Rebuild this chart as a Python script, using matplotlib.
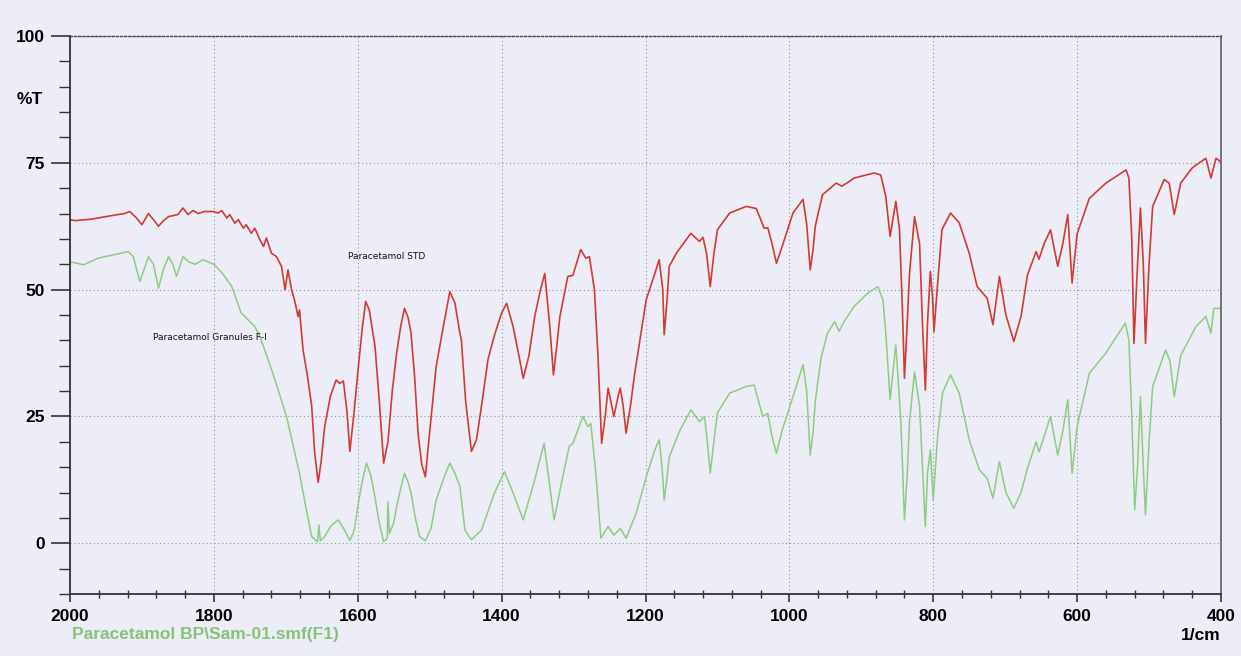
import numpy as np
import matplotlib.pyplot as plt
from matplotlib.ticker import MultipleLocator

# --- FTIR spectra (wavenumber in 1/cm, %T) ---
std_wn = [2000, 1993, 1970, 1942, 1924, 1917, 1908, 1900, 1891, 1884, 1877, 1870, 1863, 1850,
          1843, 1836, 1829, 1822, 1813, 1801, 1794, 1789, 1782, 1778, 1771, 1766, 1759, 1755,
          1748, 1743, 1736, 1731, 1727, 1720, 1713, 1706, 1701, 1697, 1692, 1688, 1683, 1681,
          1676, 1670, 1664, 1660, 1655, 1651, 1646, 1638, 1630, 1625, 1620, 1615, 1611, 1605,
          1600, 1594, 1589, 1584, 1576, 1570, 1564, 1558, 1552, 1546, 1540, 1535, 1530, 1526,
          1521, 1516, 1511, 1506, 1500, 1491, 1482, 1472, 1465, 1458, 1456, 1450, 1442, 1435,
          1427, 1419, 1410, 1400, 1393, 1384, 1376, 1370, 1362, 1354, 1346, 1340, 1333, 1328,
          1324, 1319, 1308, 1301, 1290, 1283, 1278, 1271, 1266, 1261, 1256, 1252, 1244, 1238,
          1235, 1231, 1227, 1221, 1215, 1199, 1187, 1181, 1176, 1174, 1170, 1167, 1157, 1137,
          1125, 1120, 1115, 1110, 1105, 1100, 1083, 1060, 1046, 1035, 1030, 1024, 1018, 1010,
          995, 981, 976, 971, 967, 964, 954, 935, 927, 917, 910, 882, 873, 866, 860, 852, 847,
          843, 840, 836, 833, 826, 819, 815, 811, 808, 804, 801, 799, 794, 788, 776, 764, 750,
          739, 725, 717, 708, 699, 688, 678, 669, 657, 653, 646, 637, 627, 620, 613, 607, 600,
          583, 560, 532, 528, 524, 521, 516, 512, 508, 505, 500, 495, 479, 472, 465, 456, 440,
          421, 414, 407, 403, 400]
std_t = [63.8, 63.6, 63.9, 64.6, 65.0, 65.4, 64.2, 62.8, 65.0, 63.8, 62.5, 63.6, 64.4, 64.8,
         66.1, 64.8, 65.6, 65.0, 65.4, 65.4, 65.1, 65.6, 64.1, 64.8, 63.1, 63.8, 62.1, 62.8,
         61.1, 62.1, 59.8, 58.5, 60.2, 57.2, 56.5, 54.6, 50.0, 53.9, 50.0, 48.0, 44.7, 46.0,
         38.1, 33.0, 27.0, 18.0, 12.0, 16.0, 23.0, 29.0, 32.2, 31.5, 32.0, 26.0, 18.1, 26.0,
         33.6, 42.0, 47.7, 46.0, 38.8, 28.0, 15.8, 20.0, 30.0, 37.5, 43.0, 46.3, 44.5, 41.5,
         33.0, 21.4, 15.5, 13.1, 22.0, 34.8, 42.0, 49.6, 47.4, 41.4, 40.1, 28.0, 18.1, 20.4,
         28.0, 36.2, 41.0, 45.4, 47.3, 42.7, 37.0, 32.5, 37.0, 44.7, 50.0, 53.2, 42.7, 33.2,
         38.0, 44.7, 52.6, 52.8, 57.9, 56.2, 56.5, 50.0, 36.8, 19.7, 25.0, 30.6, 25.0, 29.0,
         30.6, 27.0, 21.7, 27.0, 33.5, 48.0, 53.2, 55.9, 50.0, 41.1, 48.0, 54.6, 57.2, 61.1,
         59.5, 60.3, 57.0, 50.6, 57.0, 61.8, 65.1, 66.4, 66.0, 62.1, 62.2, 59.0, 55.2, 58.5,
         65.1, 67.8, 63.0, 53.9, 58.0, 62.5, 68.7, 71.0, 70.4, 71.3, 72.0, 73.0, 72.6, 68.4,
         60.5, 67.4, 62.0, 46.7, 32.5, 44.0, 53.2, 64.4, 59.0, 43.4, 30.2, 43.4, 53.6, 48.6,
         41.7, 51.0, 61.8, 65.1, 63.2, 57.2, 50.6, 48.3, 43.1, 52.6, 45.0, 39.8, 44.7, 52.9,
         57.5, 56.0, 59.0, 61.8, 54.6, 59.0, 64.8, 51.3, 61.0, 68.0, 71.0, 73.6, 72.0, 60.0,
         39.4, 55.0, 66.1, 55.0, 39.4, 55.0, 66.4, 71.7, 71.0, 64.8, 71.0, 74.0, 75.9, 72.0,
         75.9, 75.5, 75.0]

gran_wn = [2000, 1981, 1961, 1938, 1919, 1912, 1903, 1897, 1891, 1884, 1877, 1870, 1863, 1857,
           1852, 1843, 1835, 1826, 1815, 1799, 1787, 1775, 1762, 1743, 1736, 1718, 1699, 1681,
           1672, 1664, 1656, 1654, 1652, 1646, 1637, 1627, 1618, 1611, 1605, 1600, 1594, 1588,
           1582, 1576, 1570, 1564, 1559, 1558, 1556, 1550, 1546, 1540, 1535, 1530, 1526, 1520,
           1514, 1506, 1498, 1491, 1480, 1472, 1465, 1458, 1451, 1442, 1428, 1410, 1396, 1384,
           1370, 1354, 1341, 1333, 1327, 1317, 1306, 1301, 1287, 1280, 1276, 1269, 1262, 1252,
           1244, 1235, 1227, 1213, 1199, 1187, 1181, 1177, 1174, 1170, 1167, 1153, 1137, 1125,
           1118, 1114, 1110, 1105, 1100, 1083, 1060, 1049, 1037, 1030, 1024, 1018, 1010, 995,
           981, 976, 971, 967, 964, 956, 947, 937, 931, 924, 910, 891, 877, 870, 866, 860, 852,
           845, 840, 836, 833, 826, 819, 815, 811, 808, 804, 800, 794, 787, 776, 764, 750, 736,
           725, 717, 708, 699, 688, 678, 669, 657, 653, 646, 637, 627, 620, 613, 607, 600, 583,
           560, 533, 528, 524, 520, 516, 512, 508, 505, 500, 495, 477, 471, 465, 456, 435, 421,
           414, 410, 403, 400]
gran_t = [55.5, 54.9, 56.2, 56.9, 57.5, 56.5, 51.6, 54.0, 56.5, 55.0, 50.3, 54.0, 56.5, 55.0,
          52.6, 56.5, 55.5, 55.0, 55.9, 54.9, 53.0, 50.6, 45.4, 42.7, 40.8, 33.5, 25.0, 13.8,
          7.0, 1.3, 0.3, 3.6, 0.5, 1.3, 3.5, 4.6, 2.5, 0.5, 2.5, 7.2, 12.0, 15.8,
          13.5, 9.0, 4.0, 0.3, 1.0, 8.2, 1.9, 4.0, 7.2, 11.0, 13.8, 12.0, 10.0, 5.0,
          1.3, 0.5, 3.0, 8.5, 13.0, 15.8, 13.8, 11.2, 2.6, 0.7, 2.6, 9.9, 14.1, 9.9,
          4.6, 12.5, 19.7, 11.2, 4.6, 11.8, 19.1, 19.7, 25.0, 23.0, 23.6, 13.8, 1.0, 3.3,
          1.6, 2.9, 1.0, 5.9, 13.1, 18.4, 20.4, 15.0, 8.5, 13.0, 17.0, 22.0, 26.3, 24.0,
          25.0, 20.0, 13.8, 20.0, 25.7, 29.6, 30.9, 31.2, 25.0, 25.6, 21.0, 17.7, 22.3, 28.9,
          35.2, 30.0, 17.4, 22.0, 28.0, 36.5, 41.4, 43.7, 41.8, 43.7, 46.7, 49.3, 50.6, 48.0,
          41.5, 28.3, 39.1, 24.0, 4.6, 14.0, 24.0, 33.8, 27.0, 15.0, 3.3, 13.8, 18.4, 8.5,
          21.0, 29.7, 33.2, 29.6, 20.4, 14.5, 12.8, 8.9, 16.1, 10.0, 6.9, 10.0, 14.8, 20.0,
          18.0, 21.0, 25.0, 17.4, 22.0, 28.3, 13.8, 23.0, 33.5, 37.5, 43.4, 40.0, 25.0, 6.6,
          15.0, 28.9, 15.0, 5.6, 20.0, 30.9, 38.1, 36.0, 28.9, 37.0, 42.7, 44.7, 41.4, 46.3,
          46.3, 46.5]

y_major = [0, 25, 50, 75, 100]
x_major = [2000, 1800, 1600, 1400, 1200, 1000, 800, 600, 400]

bg = '#ededf7'
fig = plt.figure(figsize=(12.41, 6.56), dpi=100, facecolor=bg)
ax = fig.add_axes([70 / 1241, 62 / 656, 1151 / 1241, 558 / 656], facecolor=bg)

ax.plot(gran_wn, gran_t, color='#8ccc80', lw=1.1)
ax.plot(std_wn, std_t, color='#d23a35', lw=1.2)

ax.set_xlim(2000, 400)
ax.set_ylim(-10, 100)

ax.set_xticks(x_major)
ax.xaxis.set_minor_locator(MultipleLocator(40))
ax.set_yticks(y_major)
ax.yaxis.set_minor_locator(MultipleLocator(5))

ax.grid(True, which='major', color='#8f8f99', lw=0.8, linestyle=(0, (1, 2.5)))
ax.set_axisbelow(True)

tick_font = dict(fontfamily='Liberation Sans', fontweight='bold', fontsize=12.5)
ax.set_xticklabels([str(v) for v in x_major], **tick_font)
ax.set_yticklabels([str(v) for v in y_major], **tick_font)
ax.tick_params(axis='y', which='major', direction='out', length=14, width=1.2,
               color='#333333', pad=4)
ax.tick_params(axis='y', which='minor', direction='out', length=8, width=1.0, color='#333333')
ax.tick_params(axis='x', which='major', direction='out', length=6, width=1.2,
               color='#333333', pad=5)
ax.tick_params(axis='x', which='minor', direction='inout', length=6, width=1.0, color='#333333')

for side in ['left', 'bottom']:
    ax.spines[side].set_color('#333333')
    ax.spines[side].set_linewidth(1.3)
ax.spines['right'].set_color('#555555')
ax.spines['right'].set_linewidth(1.1)
ax.spines['top'].set_color('#444444')
ax.spines['top'].set_linewidth(1.0)
ax.spines['top'].set_linestyle((0, (1.5, 1.5)))

# curve labels
narrow = ['Liberation Sans Narrow', 'DejaVu Sans']
ax.text(1614, 56.5, 'Paracetamol STD', fontsize=6.5, family=narrow, va='center', color='#111111')
ax.text(1885, 40.5, 'Paracetamol Granules F-I', fontsize=6.5, family=narrow, va='center',
        color='#111111')

fig.text(30 / 1241, 1 - 100 / 656, '%T', ha='center', va='center', **tick_font)
fig.text(1221 / 1241, 1 - 635 / 656, '1/cm', ha='right', va='center', **tick_font)
fig.text(72 / 1241, 1 - 635 / 656, 'Paracetamol BP\\Sam-01.smf(F1)', ha='left', va='center',
         fontfamily='Liberation Sans', fontweight='bold', fontsize=12.5, color='#86c27a')

fig.savefig('out.png', dpi=100, facecolor=bg)
